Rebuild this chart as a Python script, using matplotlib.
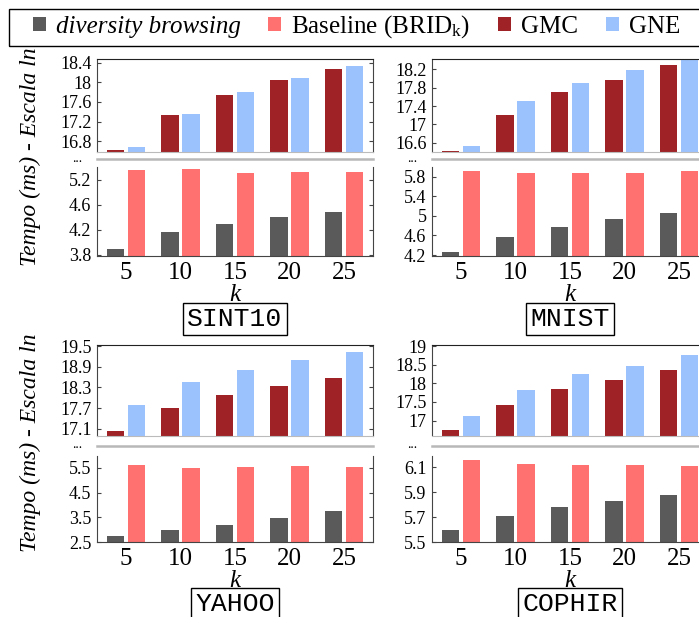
import numpy as np
import matplotlib.pyplot as plt
from matplotlib.lines import Line2D
from matplotlib.patches import Rectangle

plt.rcParams['font.family'] = ['Liberation Serif', 'DejaVu Serif']
plt.rcParams['mathtext.fontset'] = 'custom'
plt.rcParams['mathtext.rm'] = 'Liberation Serif'
plt.rcParams['mathtext.it'] = 'Liberation Serif:italic'

# categories (k)
ks = ['5', '10', '15', '20', '25']

# SINT10
sint10_gmc = [16.62, 17.33, 17.75, 18.05, 18.28]
sint10_gne = [16.68, 17.36, 17.81, 18.09, 18.34]
sint10_db = [3.90, 4.16, 4.30, 4.41, 4.49]
sint10_base = [5.16, 5.18, 5.11, 5.13, 5.13]

# MNIST
mnist_gmc = [16.43, 17.20, 17.71, 17.96, 18.29]
mnist_gne = [16.53, 17.51, 17.91, 18.18, 18.42]
mnist_db = [4.26, 4.57, 4.77, 4.94, 5.06]
mnist_base = [5.92, 5.88, 5.88, 5.88, 5.92]

# YAHOO
yahoo_gmc = [17.05, 17.69, 18.07, 18.34, 18.56]
yahoo_gne = [17.78, 18.45, 18.80, 19.09, 19.32]
yahoo_db = [2.75, 2.99, 3.19, 3.48, 3.76]
yahoo_base = [5.60, 5.48, 5.52, 5.56, 5.52]

# COPHIR
cophir_gmc = [16.75, 17.43, 17.85, 18.09, 18.36]
cophir_gne = [17.13, 17.83, 18.25, 18.47, 18.76]
cophir_db = [5.60, 5.71, 5.78, 5.83, 5.88]
cophir_base = [6.16, 6.13, 6.12, 6.12, 6.11]

c_db = '#5a5a5a'
c_base = '#ff7070'
c_gmc = '#9e2226'
c_gne = '#9cc2fe'
spine_c = '#444444'
serif = ['Liberation Serif', 'DejaVu Serif']

W, H = 699, 617
fig = plt.figure(figsize=(W / 100, H / 100), dpi=100)

AW = 276
cols = [97, 432]
# (top_y0, top_y1, bot_y0, bot_y1, break_y, name_y, ylabel_y) in pixels
rows = [(59.3, 152, 166.7, 256, 159.5, 319, 157),
        (345, 435.5, 456, 542.3, 446, 604, 443)]

x = np.arange(len(ks))
off, bw = 0.19, 0.32


def panel(ci, ri, name, gmc, gne, db, base, tlim, tticks, blim, bticks, blabels=None):
    x0 = cols[ci]
    ty0, ty1, by0, by1, bky, ny, _ = rows[ri]
    axt = fig.add_axes([x0 / W, 1 - ty1 / H, AW / W, (ty1 - ty0) / H])
    axb = fig.add_axes([x0 / W, 1 - by1 / H, AW / W, (by1 - by0) / H])

    h_gmc = axt.bar(x - off, gmc, bw, color=c_gmc)
    h_gne = axt.bar(x + off, gne, bw, color=c_gne)
    h_db = axb.bar(x - off, db, bw, color=c_db)
    h_base = axb.bar(x + off, base, bw, color=c_base)

    for ax in (axt, axb):
        ax.set_xlim(-0.53, 4.53)
        ax.tick_params(axis='y', direction='in', length=3, left=True, right=True,
                       labelsize=13, pad=4, color=spine_c)
        for s in ('left', 'right'):
            ax.spines[s].set_color(spine_c)
    axt.set_ylim(*tlim)
    axt.set_yticks(tticks)
    axt.set_yticklabels(['%g' % t for t in tticks], family=serif)
    axt.set_xticks([])
    axt.spines['top'].set_color('#222222')
    axt.spines['bottom'].set_color('#bbbbbb')

    axb.set_ylim(*blim)
    axb.set_yticks(bticks)
    axb.set_yticklabels(blabels if blabels else ['%g' % t for t in bticks], family=serif)
    axb.spines['top'].set_visible(False)
    axb.spines['bottom'].set_color(spine_c)
    axb.set_xticks(x)
    axb.set_xticklabels(ks, family=serif)
    axb.tick_params(axis='x', length=0, labelsize=18, pad=4)
    axb.set_xlabel('k', style='italic', fontsize=18, labelpad=0, family=serif)

    # break marker
    fig.add_artist(Line2D([x0 / W, (x0 + AW) / W], [1 - bky / H, 1 - bky / H],
                          transform=fig.transFigure, color='#b8b8b8', lw=1.8))
    fig.text((x0 - 20) / W, 1 - (bky + 2.5) / H, '...', fontsize=10,
             ha='center', va='baseline')
    fig.text((x0 + AW / 2) / W, 1 - ny / H, name, family='Liberation Mono',
             fontsize=19, ha='center', va='center',
             bbox=dict(boxstyle='square,pad=0.15', fc='white', ec='black', lw=1))
    return h_db, h_base, h_gmc, h_gne


handles = panel(0, 0, 'SINT10', sint10_gmc, sint10_gne, sint10_db, sint10_base,
                (16.58, 18.47), [16.8, 17.2, 17.6, 18.0, 18.4],
                (3.784, 5.21), [3.8, 4.2, 4.6, 5.0],
                ['3.8', '4.2', '4.6', '5.2'])  # top label reads 5.2 in the source
panel(1, 0, 'MNIST', mnist_gmc, mnist_gne, mnist_db, mnist_base,
      (16.4, 18.42), [16.6, 17.0, 17.4, 17.8, 18.2],
      (4.18, 6.0), [4.2, 4.6, 5.0, 5.4, 5.8])
panel(0, 1, 'YAHOO', yahoo_gmc, yahoo_gne, yahoo_db, yahoo_base,
      (16.905, 19.53), [17.1, 17.7, 18.3, 18.9, 19.5],
      (2.5, 5.97), [2.5, 3.5, 4.5, 5.5])
panel(1, 1, 'COPHIR', cophir_gmc, cophir_gne, cophir_db, cophir_base,
      (16.6, 19.03), [17.0, 17.5, 18.0, 18.5, 19.0],
      (5.5, 6.19), [5.5, 5.7, 5.9, 6.1])

for r in rows:
    fig.text(30 / W, 1 - r[6] / H, 'Tempo (ms) - Escala ln', rotation=90,
             style='italic', fontsize=17, ha='center', va='center')

# legend
fig.add_artist(Rectangle((9 / W, 1 - 45.7 / H), 1.0, 36.7 / H, transform=fig.transFigure,
                         fill=False, ec='black', lw=1))
labels = ['diversity browsing', r'Baseline (BRID$_\mathrm{k}$)', 'GMC', 'GNE']
leg = fig.legend(handles, labels, loc='center left', bbox_to_anchor=(33 / W, 1 - 27 / H),
                 frameon=False, ncol=4, fontsize=18, handlelength=0.52, handleheight=0.52,
                 handletextpad=0.4, columnspacing=1.1, borderpad=0, borderaxespad=0)
leg.get_texts()[0].set_style('italic')

fig.savefig('out.png', dpi=100)
